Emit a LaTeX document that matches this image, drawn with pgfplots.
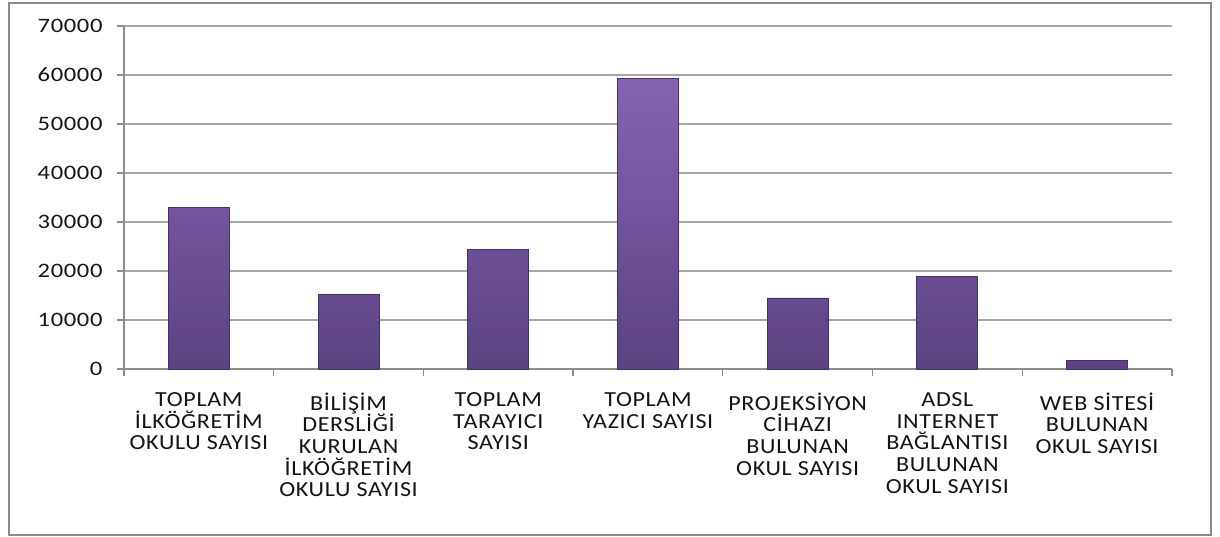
\documentclass[border=0pt]{standalone}
\usepackage{pgfplots}
\pgfplotsset{compat=1.18}
\usepackage{fontspec}
\setmainfont{Carlito}
\newfontfamily\labfont{Carlito}[FakeStretch=1.12,LetterSpace=3]
\newfontfamily\tickfont{Carlito}[FakeStretch=1.2,LetterSpace=3]
\definecolor{bartop}{HTML}{8464B2}
\definecolor{barbot}{HTML}{5B4383}
\definecolor{baredge}{HTML}{45306A}
\definecolor{gridc}{HTML}{A6A6A6}
\definecolor{axisc}{HTML}{8C8C8C}
\definecolor{framec}{HTML}{8A8A8A}
\definecolor{textc}{HTML}{141414}
\begin{document}
\begin{tikzpicture}
\useasboundingbox (0pt,0pt) rectangle (1220pt,537pt);
\fill[white] (0pt,0pt) rectangle (1220pt,537pt);
\draw[framec, line width=2.2pt] (9pt,2pt) rectangle (1211pt,534pt);
\begin{axis}[
  at={(124pt,168pt)}, anchor=south west,
  width=1048pt, height=343pt, scale only axis,
  xmin=-0.5, xmax=6.5, ymin=0, ymax=70000,
  ytick={0,10000,...,70000},
  scaled y ticks=false,
  yticklabel style={/pgf/number format/assume math mode=true,/pgf/number format/1000 sep={}, font=\tickfont\fontsize{20.5}{21}\selectfont, text=textc, xshift=-11pt},
  xtick={-0.5,0.5,...,6.5},
  x tick label as interval,
  xticklabels={{TOPLAM\\İLKÖĞRETİM\\OKULU SAYISI},
               {BİLİŞİM\\DERSLİĞİ\\KURULAN\\İLKÖĞRETİM\\OKULU SAYISI},
               {TOPLAM\\TARAYICI\\SAYISI},
               {TOPLAM\\YAZICI SAYISI},
               {PROJEKSİYON\\CİHAZI\\BULUNAN\\OKUL SAYISI},
               {ADSL\\INTERNET\\BAĞLANTISI\\BULUNAN\\OKUL SAYISI},
               {WEB SİTESİ\\BULUNAN\\OKUL SAYISI}},
  xticklabel style={align=center, font=\labfont\fontsize{21.5}{21.7}\selectfont, text=textc, yshift=-13pt, anchor=north},
  axis x line*=bottom, axis y line*=left,
  axis line style={axisc, line width=1.3pt, -},
  tick style={axisc, line width=1.3pt},
  tick align=outside,
  major tick length=7pt,
  ymajorgrids, grid style={gridc, line width=1.2pt},
  clip=false,
]
\addplot[ybar, bar width=61pt, draw=baredge, line width=0.8pt,
  top color=bartop, bottom color=barbot]
  coordinates {(0,33000) (1,15300) (2,24400) (3,59300) (4,14500) (5,18900) (6,1800)};
\end{axis}
\end{tikzpicture}
\end{document}
